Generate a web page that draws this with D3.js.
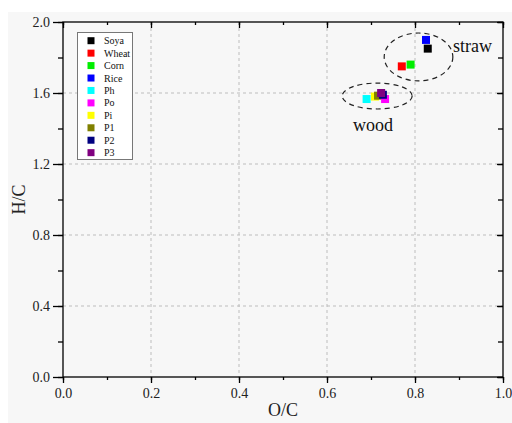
<!DOCTYPE html>
<html>
<head>
<meta charset="utf-8">
<script src="https://cdn.jsdelivr.net/npm/d3@7"></script>
<style>
  html, body { margin: 0; padding: 0; background: #ffffff; }
  svg { display: block; font-family: "Liberation Serif", "Times New Roman", serif; }
</style>
</head>
<body>
<svg id="chart" width="512" height="423"></svg>
<script>
// Elemental ratios of biomass samples (O/C vs H/C)
const samples = ["Soya", "Wheat", "Corn", "Rice", "Ph", "Po", "Pi", "P1", "P2", "P3"];
const colors  = ["#000000", "#ff0000", "#00ee00", "#0000ff", "#00ffff", "#ff00ff", "#ffff00", "#808000", "#000080", "#800080"];
const ocValues = [0.829, 0.770, 0.790, 0.825, 0.690, 0.732, 0.709, 0.716, 0.727, 0.723];
const hcValues = [1.850, 1.750, 1.760, 1.899, 1.566, 1.566, 1.580, 1.585, 1.590, 1.600];
// draw order: later entries sit on top
const drawOrder = ["Ph", "Pi", "P1", "Po", "P2", "P3", "Wheat", "Corn", "Rice", "Soya"];

const xTicks = [0.0, 0.2, 0.4, 0.6, 0.8, 1.0];
const yTicks = [0.0, 0.4, 0.8, 1.2, 1.6, 2.0];

// group outlines: [label, centre O/C, centre H/C, radius O/C, radius H/C]
const groups = [
  ["straw", 0.808, 1.803, 0.078, 0.135],
  ["wood",  0.714, 1.583, 0.0795, 0.073]
];

const svg = d3.select("#chart");
const plotL = 63, plotR = 503, plotT = 22, plotB = 377;

svg.append("rect").attr("x", 8).attr("y", 12).attr("width", 504).attr("height", 411).attr("fill", "#f7f7f7");

const x = d3.scaleLinear().domain([0, 1]).range([plotL, plotR]);
const y = d3.scaleLinear().domain([0, 2]).range([plotB, plotT]);

// grid
const grid = svg.append("g").attr("stroke", "#bdbdbd").attr("stroke-width", 1).attr("stroke-dasharray", "3,3");
xTicks.filter(v => v > 0 && v < 1).forEach(v => {
  grid.append("line").attr("x1", x(v)).attr("x2", x(v)).attr("y1", plotT).attr("y2", plotB);
});
yTicks.filter(v => v > 0 && v < 2).forEach(v => {
  grid.append("line").attr("x1", plotL).attr("x2", plotR).attr("y1", y(v)).attr("y2", y(v));
});

// axes
const fmt = d3.format(".1f");
const xMinor = d3.range(0, 1.0001, 0.1);
const yMinor = d3.range(0, 2.0001, 0.2);

function styleAxis(g) {
  g.selectAll("path").remove();
  g.selectAll("line").attr("stroke", "#000").attr("stroke-width", 1.3);
  g.selectAll("text").attr("font-family", "Liberation Serif, serif").attr("font-size", 14).attr("fill", "#222");
}

svg.append("g").attr("transform", `translate(0,${plotB})`)
  .call(d3.axisBottom(x).tickValues(xMinor).tickSize(3).tickFormat(""))
  .call(styleAxis);
svg.append("g").attr("transform", `translate(0,${plotB})`)
  .call(d3.axisBottom(x).tickValues(xTicks).tickSize(6).tickPadding(5).tickFormat(fmt))
  .call(styleAxis);
svg.append("g").attr("transform", `translate(0,${plotT})`)
  .call(d3.axisBottom(x).tickValues(xMinor).tickSize(3).tickFormat(""))
  .call(styleAxis);
svg.append("g").attr("transform", `translate(0,${plotT})`)
  .call(d3.axisBottom(x).tickValues(xTicks).tickSize(6).tickFormat(""))
  .call(styleAxis);

svg.append("g").attr("transform", `translate(${plotL},0)`)
  .call(d3.axisLeft(y).tickValues(yMinor).tickSize(5).tickFormat(""))
  .call(styleAxis);
svg.append("g").attr("transform", `translate(${plotL},0)`)
  .call(d3.axisLeft(y).tickValues(yTicks).tickSize(10).tickPadding(3).tickFormat(fmt))
  .call(styleAxis);
svg.append("g").attr("transform", `translate(${plotR},0)`)
  .call(d3.axisLeft(y).tickValues(yMinor).tickSize(5).tickFormat(""))
  .call(styleAxis);
svg.append("g").attr("transform", `translate(${plotR},0)`)
  .call(d3.axisLeft(y).tickValues(yTicks).tickSize(6).tickFormat(""))
  .call(styleAxis);

// frame
svg.append("rect").attr("x", plotL).attr("y", plotT).attr("width", plotR - plotL).attr("height", plotB - plotT)
  .attr("fill", "none").attr("stroke", "#000").attr("stroke-width", 1.3);

// axis titles
svg.append("text").attr("x", (plotL + plotR) / 2).attr("y", 416).attr("text-anchor", "middle")
  .attr("font-size", 18).attr("fill", "#222").text("O/C");
svg.append("text").attr("transform", `translate(25,${(plotT + plotB) / 2}) rotate(-90)`)
  .attr("text-anchor", "middle").attr("font-size", 18).attr("fill", "#222").text("H/C");

// group ellipses
groups.forEach(([label, cx, cy, rx, ry]) => {
  svg.append("ellipse")
    .attr("cx", x(cx)).attr("cy", y(cy))
    .attr("rx", x(cx + rx) - x(cx)).attr("ry", y(cy) - y(cy + ry))
    .attr("fill", "none").attr("stroke", "#222").attr("stroke-width", 1.2).attr("stroke-dasharray", "5,4");
});
svg.append("text").attr("x", 453).attr("y", 52).attr("font-size", 18).attr("fill", "#111").text("straw");
svg.append("text").attr("x", 353).attr("y", 131).attr("font-size", 18).attr("fill", "#111").text("wood");

// points
const pts = samples.map((s, i) => ({ name: s, oc: ocValues[i], hc: hcValues[i], color: colors[i] }));
pts.sort((a, b) => drawOrder.indexOf(a.name) - drawOrder.indexOf(b.name));
const sz = 8;
svg.append("g").selectAll("rect").data(pts).join("rect")
  .attr("x", d => x(d.oc) - sz / 2).attr("y", d => y(d.hc) - sz / 2)
  .attr("width", sz).attr("height", sz).attr("fill", d => d.color);

// legend
const lg = svg.append("g");
lg.append("rect").attr("x", 77.5).attr("y", 32.5).attr("width", 55).attr("height", 127)
  .attr("fill", "#ffffff").attr("stroke", "#777").attr("stroke-width", 1);
samples.forEach((s, i) => {
  const cy = 40.7 + i * 12.44;
  lg.append("rect").attr("x", 87.5).attr("y", cy - 3.5).attr("width", 7).attr("height", 7).attr("fill", colors[i]);
  lg.append("text").attr("x", 104).attr("y", cy + 3.5).attr("font-size", 10).attr("fill", "#111").text(s);
});
</script>
</body>
</html>
